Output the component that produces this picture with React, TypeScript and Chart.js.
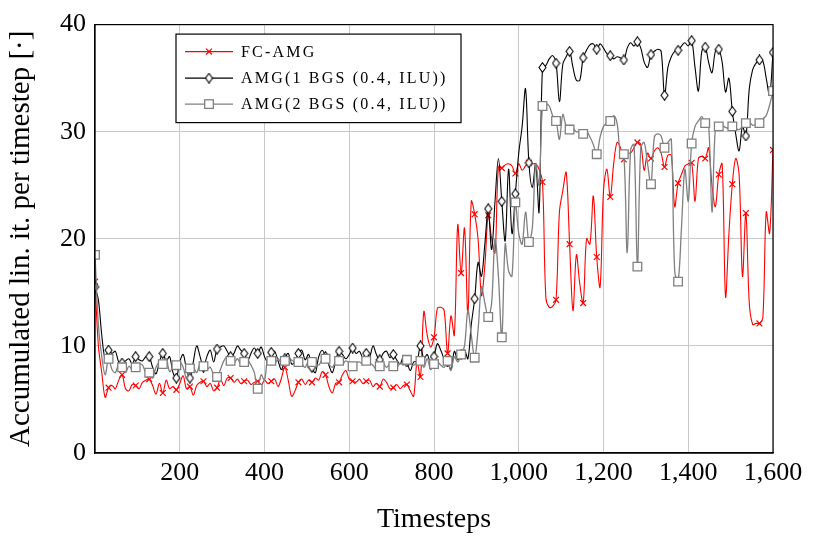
import React, { useEffect, useRef } from 'react';
import { Chart, registerables } from 'chart.js';

Chart.register(...registerables);

// Timesteps sampled every 8 steps (0 .. 1600)
const STEP = 8;
const TIMESTEPS: number[] = Array.from({ length: 201 }, (_, i) => i * STEP);
const MARK_EVERY = 4; // a marker every 32 timesteps

const FC_AMG: number[] = [
  16.0, 10.0, 7.5, 5.2, 6.1, 6.3, 6.0, 6.8, 7.3, 6.0,
  5.8, 6.4, 6.3, 6.0, 6.6, 6.8, 6.9, 6.3, 5.5, 6.5,
  5.6, 6.8, 6.0, 6.2, 5.9, 6.5, 7.2, 6.0, 6.2, 5.4,
  6.3, 6.6, 6.7, 6.2, 6.5, 5.8, 6.1, 6.9, 6.3, 7.0,
  7.0, 6.6, 6.9, 6.5, 6.7, 6.8, 6.4, 6.6, 6.7, 6.3,
  6.8, 6.5, 6.7, 6.9, 6.2, 7.0, 8.0, 6.8, 5.3, 5.8,
  6.6, 6.9, 6.4, 6.8, 6.6, 7.0, 6.8, 7.6, 7.3, 6.2,
  5.6, 6.5, 6.6, 7.3, 7.7, 6.9, 6.7, 6.6, 6.9, 6.5,
  6.7, 6.8, 6.2, 6.5, 6.2, 6.9, 6.6, 6.0, 6.1, 6.4,
  6.0, 6.3, 6.4, 5.8, 5.3, 8.5, 7.1, 13.2, 11.0, 9.9,
  10.8, 13.5, 13.6, 13.3, 9.3, 12.8, 11.0, 21.3, 16.8, 21.0,
  13.0, 23.5, 22.3, 20.0, 14.7, 17.5, 22.2, 20.0, 18.7, 26.7,
  26.6, 26.9, 27.0, 26.8, 26.1, 27.0, 26.4, 26.8, 27.1, 27.0,
  27.0, 26.5, 25.3, 14.5, 13.6, 13.7, 14.3, 22.5, 24.5, 26.2,
  19.5, 13.3, 18.5, 15.8, 14.0, 20.0, 19.5, 24.0, 18.3, 15.5,
  24.5, 26.5, 23.9, 27.0, 29.0, 28.5, 27.4, 28.0, 28.0, 28.5,
  29.0, 28.8, 26.4, 28.0, 27.5, 28.2, 28.5, 28.0, 26.7, 27.8,
  27.8, 23.0, 25.2, 26.0, 26.8, 27.0, 27.1, 23.5, 27.5, 27.7,
  27.5, 28.5, 25.0, 23.0, 26.0, 27.0, 14.6, 20.5, 25.1, 27.5,
  26.0, 16.5, 22.4, 14.0, 12.0, 12.1, 12.1, 12.6, 22.5, 20.5,
  28.3,
];

const AMG_1BGS: number[] = [
  15.5, 14.3, 11.0, 8.8, 9.6, 9.3, 9.5, 8.5, 8.4, 8.6,
  8.8, 8.3, 9.0, 8.7, 8.6, 9.0, 9.0, 8.0, 7.4, 8.5,
  9.3, 8.6, 9.0, 7.5, 7.0, 8.5, 9.2, 7.8, 7.0, 8.5,
  10.0, 9.0, 8.0, 9.0, 9.6, 8.5, 9.7, 9.9, 10.0, 9.5,
  9.0, 9.3, 10.0, 9.6, 9.3, 8.6, 9.3, 9.8, 9.3, 9.9,
  9.0, 8.5, 9.4, 9.5, 8.6, 7.8, 8.8, 9.3, 8.3, 8.5,
  9.3, 9.6, 8.7, 9.2, 8.0, 7.5, 9.0, 9.6, 9.0, 8.2,
  7.5, 8.6, 9.5, 9.2, 8.8, 9.2, 9.8, 9.3, 9.5, 8.9,
  9.3, 9.0, 10.0, 9.2, 8.7, 9.3, 9.5, 8.9, 9.2, 8.7,
  8.3, 9.0, 8.5, 7.7, 8.5, 8.6, 10.0, 8.8, 9.2, 8.4,
  9.0, 10.2, 9.6, 8.8, 8.5, 7.8, 9.5, 8.7, 9.2, 9.6,
  8.8, 12.0, 14.4, 17.8, 16.5, 19.5, 22.8, 19.0, 23.5, 27.5,
  23.5, 19.8, 26.5, 20.5, 24.2, 28.0, 30.5, 34.0, 27.1, 24.8,
  27.0, 22.5, 36.0, 36.2, 36.8, 37.1, 36.4, 32.8, 36.3, 37.0,
  37.5, 36.0, 34.8, 34.8, 36.9, 37.6, 38.1, 38.2, 37.7, 38.2,
  37.8, 37.3, 37.1, 36.8, 37.0, 36.9, 36.7, 37.8, 38.3, 38.0,
  38.4, 37.8, 36.5, 36.0, 37.2, 37.5, 37.7, 37.5, 33.4, 36.0,
  37.0, 37.5, 37.6, 38.0, 38.3, 38.0, 38.5, 36.0, 33.8, 37.5,
  37.9, 36.5, 35.5, 37.5, 37.7, 36.5, 33.7, 35.0, 31.9, 29.8,
  28.2, 30.5, 29.6, 34.0, 35.8, 36.4, 36.7, 36.6, 35.0, 33.4,
  37.4,
];

const AMG_2BGS: number[] = [
  18.5, 12.0, 9.0, 7.3, 8.8, 7.8, 7.5, 8.3, 8.0, 7.5,
  8.1, 7.8, 8.0, 8.3, 8.2, 7.5, 7.5, 7.0, 8.0, 8.5,
  8.3, 8.8, 7.6, 8.0, 8.2, 8.5, 8.0, 7.0, 7.9, 8.0,
  7.5, 8.3, 8.1, 7.8, 8.0, 7.3, 7.1, 7.8, 8.6, 9.0,
  8.6, 8.4, 8.8, 8.3, 8.5, 8.7, 8.2, 7.5, 6.0, 7.3,
  6.8, 9.0, 8.6, 8.3, 8.8, 8.4, 8.6, 8.2, 8.7, 8.4,
  8.5, 8.3, 8.0, 8.6, 8.5, 8.4, 8.2, 8.7, 8.8, 8.3,
  8.0, 8.5, 8.6, 8.3, 8.6, 8.4, 8.1, 8.4, 8.5, 8.3,
  8.6, 8.4, 8.2, 7.8, 8.1, 8.4, 8.0, 8.3, 8.1, 8.0,
  8.4, 8.2, 8.7, 8.3, 8.2, 8.5, 8.6, 8.0, 8.8, 7.8,
  8.3, 8.5, 8.2, 8.0, 8.6, 7.7, 9.0, 8.5, 9.2, 10.0,
  13.3, 11.0, 8.9, 11.5, 15.5, 14.0, 12.7, 14.0, 20.0, 16.5,
  10.8, 19.5, 17.0, 16.5, 23.4, 20.5, 19.5, 22.5, 19.7, 21.0,
  27.0, 25.0, 32.4, 32.6, 32.4, 31.5, 31.0, 29.3, 31.6, 30.5,
  30.2, 30.3, 30.0, 30.0, 29.8, 30.0, 29.5, 28.8, 27.9, 29.5,
  30.5, 30.8, 31.0, 31.5, 30.8, 28.0, 27.9, 18.7, 28.3, 28.8,
  17.4, 28.5, 29.0, 27.0, 25.1, 29.5, 29.8, 29.6, 28.5, 29.0,
  29.3, 17.0, 16.0, 21.0, 26.5, 23.5, 28.9, 30.5, 31.0, 31.4,
  30.8, 30.7, 22.5, 30.3, 30.5, 30.6, 30.4, 30.3, 30.5, 30.3,
  30.2, 30.5, 30.8, 30.9, 30.6, 30.7, 30.8, 31.2, 31.5, 32.5,
  33.8,
];

const SERIES_LABELS: string[] = ['FC-AMG', 'AMG(1 BGS (0.4, ILU))', 'AMG(2 BGS (0.4, ILU))'];
const X_TICKS: number[] = [200, 400, 600, 800, 1000, 1200, 1400, 1600];
const Y_TICKS: number[] = [0, 10, 20, 30, 40];
const X_TITLE = 'Timesteps';
const Y_TITLE = 'Accumulated lin. it. per timestep [\u00B7]';

const FONT = "'Liberation Serif', 'DejaVu Serif', serif";
const RED = '#ff0000';
const BLACK = '#000000';
const GRAY = '#808080';

function makeDiamond(): HTMLCanvasElement {
  const c = document.createElement('canvas');
  c.width = 9;
  c.height = 11;
  const g = c.getContext('2d') as CanvasRenderingContext2D;
  g.beginPath();
  g.moveTo(4.5, 0.7);
  g.lineTo(8.0, 5.5);
  g.lineTo(4.5, 10.3);
  g.lineTo(1.0, 5.5);
  g.closePath();
  g.fillStyle = '#fff';
  g.fill();
  g.strokeStyle = BLACK;
  g.lineWidth = 1.1;
  g.stroke();
  return c;
}

export default function App() {
  const ref = useRef<HTMLCanvasElement | null>(null);

  useEffect(() => {
    if (!ref.current) return;
    const diamond = makeDiamond();
    const mark = (r: number) => (ctx: any) => (ctx.dataIndex % MARK_EVERY === 0 ? r : 0);
    const toPts = (vals: number[]) => TIMESTEPS.map((t, i) => ({ x: t, y: vals[i] }));

    const boxLegend = {
      id: 'boxLegend',
      afterDraw(chart: any) {
        const { ctx, chartArea: a } = chart;
        ctx.save();
        ctx.strokeStyle = BLACK;
        ctx.lineWidth = 1.2;
        ctx.strokeRect(a.left, a.top, a.right - a.left, a.bottom - a.top);

        const bx = a.left + 81;
        const by = a.top + 9.5;
        const bw = 285;
        const bh = 88.5;
        ctx.fillStyle = '#fff';
        ctx.fillRect(bx, by, bw, bh);
        ctx.strokeRect(bx, by, bw, bh);

        const rows = [by + 17.5, by + 44, by + 70];
        const colors = [RED, BLACK, GRAY];
        rows.forEach((y, k) => {
          ctx.strokeStyle = colors[k];
          ctx.lineWidth = k === 2 ? 1.3 : 1.1;
          ctx.beginPath();
          ctx.moveTo(bx + 9, y);
          ctx.lineTo(bx + 57, y);
          ctx.stroke();
          const mx = bx + 33;
          if (k === 0) {
            const d = 2.9;
            ctx.lineWidth = 1.2;
            ctx.beginPath();
            ctx.moveTo(mx - d, y - d);
            ctx.lineTo(mx + d, y + d);
            ctx.moveTo(mx - d, y + d);
            ctx.lineTo(mx + d, y - d);
            ctx.stroke();
          } else if (k === 1) {
            ctx.drawImage(diamond, mx - diamond.width / 2, y - diamond.height / 2);
          } else {
            const s = 4.3;
            ctx.fillStyle = '#fff';
            ctx.fillRect(mx - s, y - s, 2 * s, 2 * s);
            ctx.lineWidth = 1.3;
            ctx.strokeRect(mx - s, y - s, 2 * s, 2 * s);
          }
          ctx.fillStyle = BLACK;
          ctx.font = `16px ${FONT}`;
          (ctx as any).letterSpacing = '2.2px';
          ctx.textBaseline = 'middle';
          ctx.textAlign = 'left';
          ctx.fillText(SERIES_LABELS[k], bx + 65, y + 1);
          (ctx as any).letterSpacing = '0px';
        });
        ctx.restore();
      },
    };

    const chart = new Chart(ref.current, {
      type: 'line',
      data: {
        datasets: [
          {
            label: SERIES_LABELS[0],
            data: toPts(FC_AMG),
            borderColor: RED,
            borderWidth: 1.1,
            pointStyle: 'crossRot',
            pointRadius: mark(4.1),
            pointBorderColor: RED,
            pointBorderWidth: 1.2,
            pointBackgroundColor: RED,
            tension: 0.35,
            order: 2,
          },
          {
            label: SERIES_LABELS[1],
            data: toPts(AMG_1BGS),
            borderColor: BLACK,
            borderWidth: 1.1,
            pointStyle: diamond,
            pointRadius: mark(4.5),
            tension: 0.35,
            order: 1,
          },
          {
            label: SERIES_LABELS[2],
            data: toPts(AMG_2BGS),
            borderColor: GRAY,
            borderWidth: 1.3,
            pointStyle: 'rect',
            pointRadius: mark(6.1),
            pointBorderColor: GRAY,
            pointBorderWidth: 1.3,
            pointBackgroundColor: '#ffffff',
            tension: 0.35,
            order: 0,
          },
        ] as any,
      },
      options: {
        responsive: true,
        maintainAspectRatio: false,
        animation: false,
        events: [],
        layout: { padding: { left: 0, right: 41, top: 18, bottom: 0 } },
        plugins: {
          legend: { display: false },
          tooltip: { enabled: false },
        },
        scales: {
          x: {
            type: 'linear',
            min: 0,
            max: 1600,
            afterBuildTicks: (s: any) => {
              s.ticks = X_TICKS.map((v) => ({ value: v }));
            },
            afterFit: (s: any) => {
              s.height = 88;
            },
            ticks: {
              autoSkip: false,
              maxRotation: 0,
              color: BLACK,
              padding: 5,
              font: { family: FONT, size: 26 },
              callback: (v: any) => Number(v).toLocaleString('en-US'),
            },
            grid: { color: '#c8c8c8', lineWidth: 1, drawTicks: false },
            border: { color: BLACK, width: 1.2 },
            title: {
              display: true,
              text: X_TITLE,
              color: BLACK,
              font: { family: FONT, size: 28 },
              padding: { top: 0, bottom: 5 },
            },
          },
          y: {
            type: 'linear',
            min: 0,
            max: 40,
            afterBuildTicks: (s: any) => {
              s.ticks = Y_TICKS.map((v) => ({ value: v }));
            },
            afterFit: (s: any) => {
              s.width = 95;
            },
            ticks: {
              color: BLACK,
              padding: 9,
              font: { family: FONT, size: 26 },
            },
            grid: { color: '#c8c8c8', lineWidth: 1, drawTicks: false },
            border: { color: BLACK, width: 1.2 },
            title: {
              display: true,
              text: Y_TITLE,
              color: BLACK,
              font: { family: FONT, size: 29 },
              padding: { top: 4, bottom: 0 },
            },
          },
        },
      } as any,
      plugins: [boxLegend],
    });
    return () => chart.destroy();
  }, []);

  return (
    <div style={{ position: 'fixed', left: 0, top: 0, width: 814, height: 541, background: '#fff' }}>
      <canvas ref={ref} />
    </div>
  );
}
